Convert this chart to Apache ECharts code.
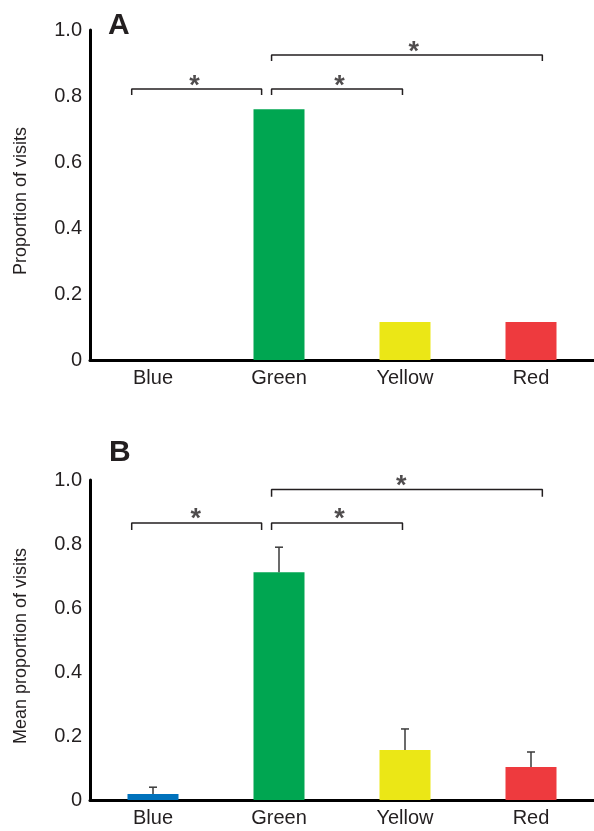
<!DOCTYPE html>
<html>
<head>
<meta charset="utf-8">
<script src="https://cdn.jsdelivr.net/npm/echarts@6/dist/echarts.min.js"></script>
<style>
  html, body { margin: 0; padding: 0; background: #fff; }
  #chart { width: 594px; height: 831px; }
</style>
</head>
<body>
<div id="chart"></div>
<script>
const categories = ['Blue', 'Green', 'Yellow', 'Red'];
const barColors = ['#0072bc', '#00a651', '#ebe716', '#ee3a3e'];

// panel A: proportion of visits
const propA = [0, 0.76, 0.115, 0.115];
// panel B: mean proportion and upper error
const meanB = [0.019, 0.712, 0.156, 0.103];
const errB = [0.021, 0.078, 0.066, 0.047];

// significance brackets: [from, to, height]
const bracketsA = [[-0.169, 0.862, 0.821], [0.941, 1.98, 0.821], [0.941, 3.09, 0.924]];
const bracketsB = [[-0.169, 0.862, 0.866], [0.941, 1.98, 0.866], [0.941, 3.09, 0.97]];
const starsA = [[0.33, 0.828], [1.48, 0.828], [2.07, 0.931]];
const starsB = [[0.34, 0.876], [1.48, 0.876], [1.97, 0.98]];

const ink = '#231f20';
const font = 'Liberation Sans, Arial, sans-serif';

function bracketSeries(list, drop, xIdx, yIdx) {
  return list.map(b => ({
    type: 'line',
    xAxisIndex: xIdx,
    yAxisIndex: yIdx,
    symbol: 'none',
    silent: true,
    lineStyle: { color: ink, width: 1.5 },
    data: [[b[0], b[2] - drop], [b[0], b[2]], [b[1], b[2]], [b[1], b[2] - drop]]
  }));
}

function starSeries(list, xIdx, yIdx) {
  return {
    type: 'scatter',
    xAxisIndex: xIdx,
    yAxisIndex: yIdx,
    symbolSize: 0,
    silent: true,
    data: list,
    label: {
      show: true,
      position: 'inside',
      formatter: '*',
      color: ink,
      fontFamily: font,
      fontWeight: 'bold',
      fontSize: 27
    }
  };
}

function yAxisOf(gridIdx, name, gap) {
  return {
    type: 'value',
    gridIndex: gridIdx,
    min: 0,
    max: 1,
    interval: 0.2,
    name: name,
    nameLocation: 'middle',
    nameRotate: 90,
    nameGap: gap,
    nameTextStyle: { color: ink, fontFamily: font, fontSize: 18, padding: [0, 12, 0, 0] },
    axisLine: { show: true, onZero: false, lineStyle: { color: '#000', width: 3 } },
    axisTick: { show: false },
    splitLine: { show: false },
    axisLabel: {
      color: ink, fontFamily: font, fontSize: 20, margin: 8,
      formatter: v => v === 0 ? '0' : v.toFixed(1)
    }
  };
}

function catAxis(gridIdx) {
  return {
    type: 'category',
    gridIndex: gridIdx,
    data: categories,
    axisLine: { lineStyle: { color: '#000', width: 3 } },
    axisTick: { show: false },
    axisLabel: { color: ink, fontFamily: font, fontSize: 20, margin: 8 }
  };
}

function annotAxis(gridIdx) {
  return { type: 'value', gridIndex: gridIdx, min: -0.5, max: 3.5, show: false };
}

const chart = echarts.init(document.getElementById('chart'));
chart.setOption({
  animation: false,
  backgroundColor: '#fff',
  title: [
    { text: 'A', left: 103, top: 6, textStyle: { color: ink, fontFamily: font, fontSize: 30, fontWeight: 'bold' } },
    { text: 'B', left: 104, top: 433, textStyle: { color: ink, fontFamily: font, fontSize: 30, fontWeight: 'bold' } }
  ],
  grid: [
    { left: 90, top: 30, width: 508, height: 330 },
    { left: 90, top: 480, width: 508, height: 320 }
  ],
  xAxis: [catAxis(0), annotAxis(0), catAxis(1), annotAxis(1)],
  yAxis: [yAxisOf(0, 'Proportion of visits', 60), yAxisOf(1, 'Mean proportion of visits', 60)],
  series: [
    {
      type: 'bar',
      xAxisIndex: 0,
      yAxisIndex: 0,
      barWidth: 51,
      data: propA.map((v, i) => ({ value: v, itemStyle: { color: barColors[i] } }))
    },
    {
      type: 'bar',
      xAxisIndex: 2,
      yAxisIndex: 1,
      barWidth: 51,
      data: meanB.map((v, i) => ({ value: v, itemStyle: { color: barColors[i] } }))
    },
    {
      type: 'custom',
      xAxisIndex: 2,
      yAxisIndex: 1,
      silent: true,
      z: 5,
      data: meanB.map((v, i) => [i, v, v + errB[i]]),
      renderItem: function (params, api) {
        const lo = api.coord([api.value(0), api.value(1)]);
        const hi = api.coord([api.value(0), api.value(2)]);
        const style = { stroke: '#3a3a3a', lineWidth: 1.5 };
        return {
          type: 'group',
          children: [
            { type: 'line', shape: { x1: lo[0], y1: lo[1], x2: hi[0], y2: hi[1] }, style: style },
            { type: 'line', shape: { x1: hi[0] - 4, y1: hi[1], x2: hi[0] + 4, y2: hi[1] }, style: style }
          ]
        };
      }
    },
    ...bracketSeries(bracketsA, 0.018, 1, 0),
    ...bracketSeries(bracketsB, 0.022, 3, 1),
    starSeries(starsA, 1, 0),
    starSeries(starsB, 3, 1)
  ]
});
</script>
</body>
</html>
